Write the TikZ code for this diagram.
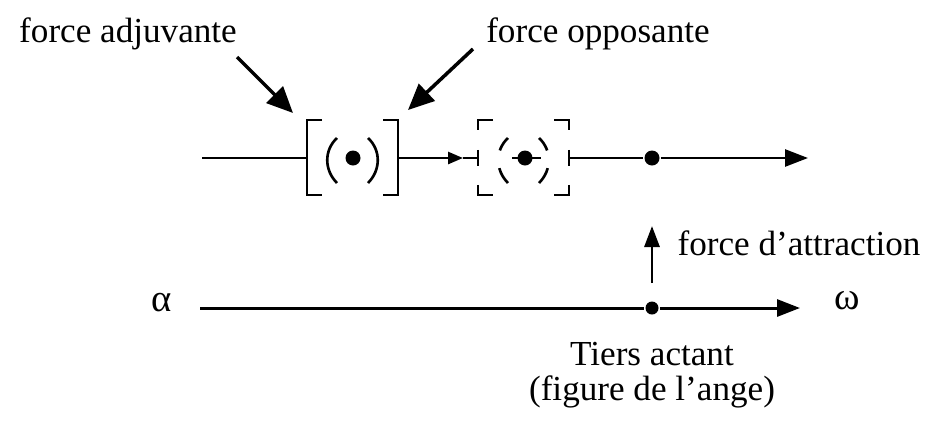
\documentclass[tikz,border=0pt]{standalone}
\usepackage{fontspec}
\setmainfont{Liberation Serif}
\usetikzlibrary{arrows.meta}
\usetikzlibrary{calc}
\newcommand\drawbrk[3]{%
	\begin{scope}[shift={#1}]
    \draw[#2] (15,-38) -- (0,-38) -- (0,37) -- (15,37);
    \draw[#2] (76,-38) -- (91,-38) -- (91,37) -- (76,37);
    \draw[#3] (30,-20) .. controls (17,-8) and (17,12) .. (30,25);
    \draw[#3] (61,-20) .. controls (74,-8) and (74,12) .. (61,25);
	\end{scope}
}

\begin{document}
\begin{tikzpicture}[x=0.02cm,y=-0.02cm,line width=1.5pt,
  font=\fontsize{20}{19.5}\selectfont,
  dot/.style={circle,fill,inner sep=0pt,minimum size=0.3cm},
  sdot/.style={circle,fill,inner sep=0pt,minimum size=0.26cm},
  bigtip/.style={-{Triangle[length=0.46cm,width=0.34cm]}},
  smalltip/.style={-{Triangle[length=0.3cm,width=0.24cm]}},
  pointer/.style={line width=2pt,-{Triangle[length=0.52cm,width=0.46cm]}}]
\useasboundingbox (0,0) rectangle (927,427);

% labels
\node[anchor=base] (adj) at (128,42) {force adjuvante};
\node[anchor=base] (opp) at (598,42) {force opposante};
\node[anchor=base] (attr) at (799,255) {force d’attraction};
\node[anchor=base] (alpha) at (162,311) {\fontsize{22}{24}\selectfont α};
\node[anchor=base] (omega) at (847,309) {\fontsize{22}{24}\selectfont ω};
\node[anchor=base,align=center] (tiers) at (652,400) {Tiers actant\\(figure de l’ange)};

% dots
\node[dot] (d1) at (353,158) {};
\node[dot] (d2) at (525,158) {};
\node[dot] (d3) at (652,158) {};
\node[sdot] (d4) at (652,308) {};

\coordinate (u0) at (202,158);
\coordinate (b1l) at (307,158);
\coordinate (b1r) at (398,158);
\coordinate (mid) at (463,158);
\coordinate (b2l) at (478,158);
\coordinate (b2r) at (568,158);
\coordinate (u1) at (808,158);
\coordinate (l0) at (200,308);
\coordinate (l1) at (800,308);

% upper line
\draw (u0) -- (b1l);
\draw[smalltip] (b1r) -- (mid);
\draw (mid) -- (b2l);
\draw ($(d2)+(-13,0)$) -- ($(d2)+(16,0)$);
\draw[bigtip] (b2r) -- (d3) -- (u1);

\drawbrk{(307,158)}{}{}
\drawbrk{(478,158)}{dash pattern=on 0.5cm off 0.4cm on 0.32cm off 0.38cm on 0.5cm}{dash pattern=on 0.3cm off 0.36cm on 0.4cm}

% lower line
\draw[bigtip,line width=1.7pt] (l0) -- (d4) -- (l1);
\draw[line width=1.7pt,-{Triangle[length=0.42cm,width=0.3cm]}] ($(d4)+(0,-25)$) -- ($(d3)+(0,68)$);

% pointers
\coordinate (p1) at (237,57);
\coordinate (p2) at (293,113);
\coordinate (p3) at (473,49);
\coordinate (p4) at (408,110);
\draw[pointer] (p1) -- (p2);
\draw[pointer] (p3) -- (p4);
\end{tikzpicture}
\end{document}
